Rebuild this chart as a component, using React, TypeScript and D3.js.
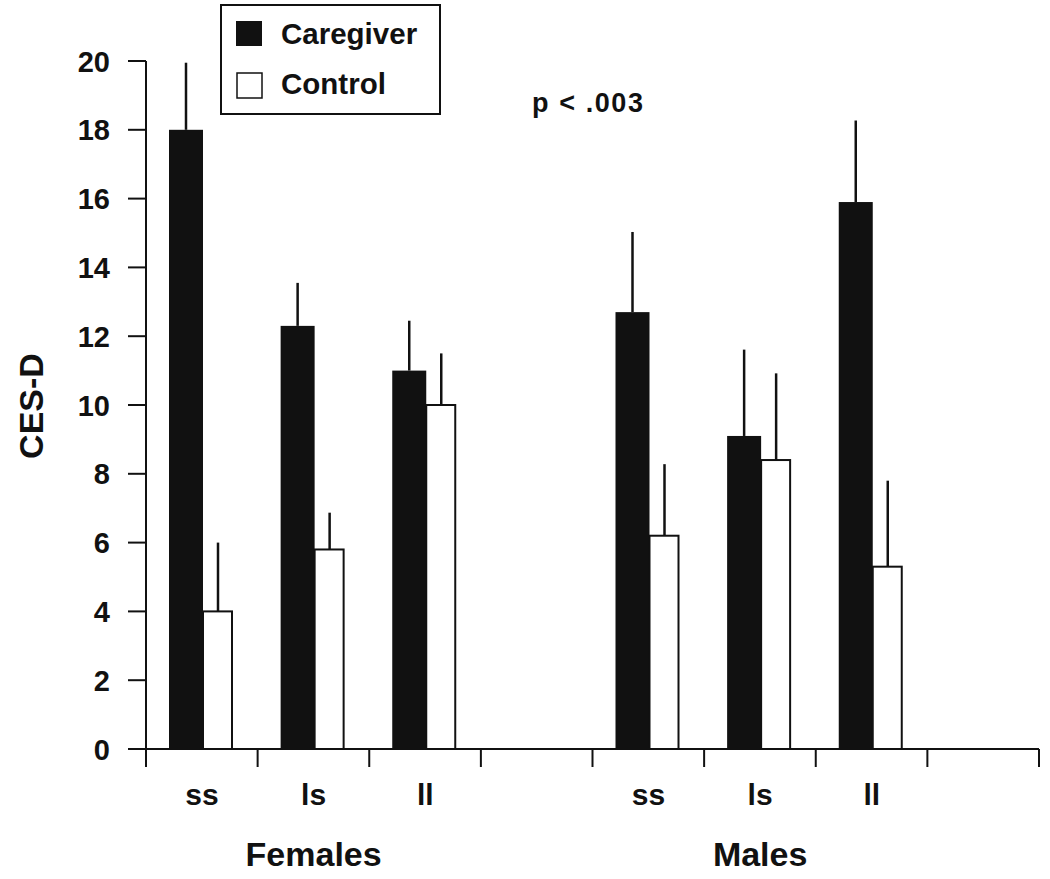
import React from "react";
import * as d3 from "d3";

const genotypes = ["ss", "ls", "ll"];
const groups = ["Females", "Males"];
const groupSlotStart = [0, 4];
const caregiverMeans = [18.0, 12.3, 11.0, 12.7, 9.1, 15.9];
const caregiverErr = [1.95, 1.25, 1.45, 2.33, 2.51, 2.37];
const controlMeans = [4.0, 5.8, 10.0, 6.2, 8.4, 5.3];
const controlErr = [2.0, 1.07, 1.5, 2.08, 2.52, 2.5];
const yTicks = [0, 2, 4, 6, 8, 10, 12, 14, 16, 18, 20];
const seriesNames = ["Caregiver", "Control"];
const pLabel = "p < .003";
const yLabel = "CES-D";

const FONT = "'Liberation Sans', Arial, Helvetica, sans-serif";

export default function App() {
  const W = 1050, H = 879;
  const y = d3.scaleLinear().domain([0, 20]).range([749, 61]);
  const x = d3.scaleLinear().domain([0, 8]).range([146, 1039]);
  const slotTicks = d3.range(0, 9);

  const bars: any[] = [];
  groups.forEach((g, gi) => {
    genotypes.forEach((gt, ti) => {
      const idx = gi * 3 + ti;
      const s = groupSlotStart[gi] + ti;
      bars.push({ idx, slot: s, gt, g });
    });
  });

  const cgX0 = (s: number) => x(s) + 23;
  const cgX1 = (s: number) => x(s) + 57;
  const ctX1 = (s: number) => x(s) + 87;

  return (
    <svg width={W} height={H} style={{ position: "absolute", left: 0, top: 0, background: "#fff" }}
      fontFamily={FONT} fontWeight="bold">
      <rect x={0} y={0} width={W} height={H} fill="#fff" />
      {/* error bars */}
      {bars.map((b) => {
        const cx1 = (cgX0(b.slot) + cgX1(b.slot)) / 2;
        const cx2 = (cgX1(b.slot) + ctX1(b.slot)) / 2;
        return (
          <g key={"e" + b.idx} stroke="#111" strokeWidth={2.5}>
            <line x1={cx1} x2={cx1} y1={y(caregiverMeans[b.idx])} y2={y(caregiverMeans[b.idx] + caregiverErr[b.idx])} />
            <line x1={cx2} x2={cx2} y1={y(controlMeans[b.idx])} y2={y(controlMeans[b.idx] + controlErr[b.idx])} />
          </g>
        );
      })}
      {/* bars */}
      {bars.map((b) => (
        <g key={"b" + b.idx}>
          <rect x={cgX0(b.slot)} y={y(caregiverMeans[b.idx])} width={cgX1(b.slot) - cgX0(b.slot)}
            height={y(0) - y(caregiverMeans[b.idx])} fill="#111" />
          <rect x={cgX1(b.slot)} y={y(controlMeans[b.idx])} width={ctX1(b.slot) - cgX1(b.slot) - 1}
            height={y(0) - y(controlMeans[b.idx])} fill="#fff" stroke="#111" strokeWidth={2} />
        </g>
      ))}
      {/* y axis */}
      <line x1={146} x2={146} y1={y(20)} y2={767} stroke="#111" strokeWidth={2} />
      {yTicks.map((t) => (
        <g key={"yt" + t}>
          <line x1={128} x2={146} y1={y(t)} y2={y(t)} stroke="#111" strokeWidth={2} />
          <text x={110} y={y(t) + 10.5} textAnchor="end" fontSize={29} fill="#111">{t}</text>
        </g>
      ))}
      {/* x axis */}
      <line x1={128} x2={1039} y1={y(0)} y2={y(0)} stroke="#111" strokeWidth={2} />
      {slotTicks.map((s) => (
        <line key={"xt" + s} x1={x(s)} x2={x(s)} y1={y(0)} y2={767} stroke="#111" strokeWidth={2} />
      ))}
      {bars.map((b) => (
        <text key={"gl" + b.idx} x={x(b.slot) + 56} y={805} textAnchor="middle" fontSize={30} fill="#111">{b.gt}</text>
      ))}
      {groups.map((g, gi) => (
        <text key={"g" + g} x={x(groupSlotStart[gi] + 1) + 56} y={866} textAnchor="middle" fontSize={34} fill="#111">{g}</text>
      ))}
      {/* y label */}
      <text transform={`translate(43,406) rotate(-90)`} textAnchor="middle" fontSize={34} fill="#111">{yLabel}</text>
      {/* p value */}
      <text x={532} y={112} fontSize={27} fill="#111" textLength={111} lengthAdjust="spacing">{pLabel}</text>
      {/* legend */}
      <rect x={221} y={5} width={219} height={109} fill="#fff" stroke="#111" strokeWidth={2} />
      <rect x={236} y={21} width={26} height={25} fill="#111" />
      <rect x={237} y={73} width={25} height={25} fill="#fff" stroke="#111" strokeWidth={1.5} />
      <text x={281} y={44} fontSize={29.5} fill="#111">{seriesNames[0]}</text>
      <text x={281} y={94} fontSize={29.5} fill="#111">{seriesNames[1]}</text>
    </svg>
  );
}
